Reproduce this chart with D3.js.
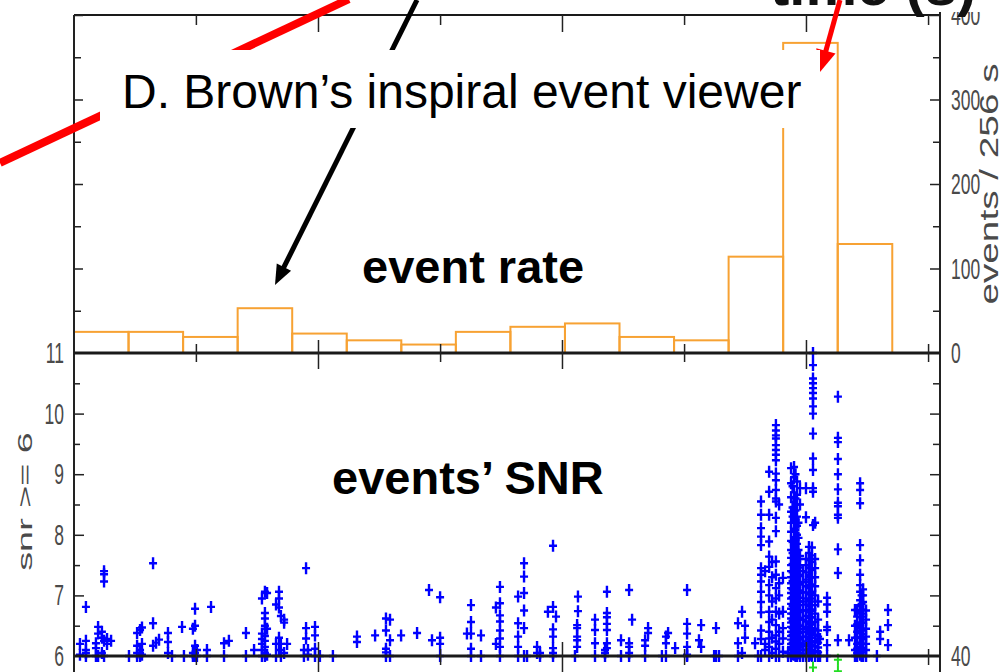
<!DOCTYPE html>
<html>
<head>
<meta charset="utf-8">
<script src="https://cdn.jsdelivr.net/npm/d3@7"></script>
<style>
  body { margin: 0; background: #fff; }
  svg { display: block; }
</style>
</head>
<body>
<div id="chart"></div>
<script>
// ---- data ----
// event rate histogram, events per 256 s bin
var binSize = 256;
var binCounts = [25, 25, 19, 53, 23, 15, 10, 25, 31, 35, 19, 15, 114, 367, 129];
var rateTicks = [0, 100, 200, 300, 400];
var rateMinor = [50, 150, 250, 350];

// snr panel
var snrTicks = [6, 7, 8, 9, 10, 11];
var snrMinor = [6.5, 7.5, 8.5, 9.5, 10.5];
var lowTicks = [40];

// time axis (s)
var timeMax = 4064;
var xMajor = [1145, 2290, 3435];
var xMinor = [572, 1718, 2863, 4008];

// events: time of each column and the snr values found there
var colTime = [28, 56, 103, 113, 131, 141, 155, 174, 258, 296, 310, 319, 371, 385, 399, 441, 460, 507, 516, 558,
    568, 577, 624, 643, 704, 727, 807, 845, 882, 896, 906, 948, 962, 971, 986, 1000, 1079, 1089, 1098, 1131,
    1154, 1215, 1328, 1413, 1464, 1483, 1535, 1610, 1666, 1680, 1718, 1844, 1863, 1910, 1980, 1999, 2084, 2112, 2126, 2173,
    2187, 2224, 2248, 2262, 2351, 2361, 2365, 2445, 2492, 2501, 2567, 2605, 2619, 2680, 2694, 2759, 2778, 2788, 2821, 2877,
    2933, 2943, 3004, 3013, 3027, 3116, 3135, 3149, 3196, 3210, 3224, 3243, 3262, 3276, 3294, 3309, 3327, 3351, 3365, 3372,
    3379, 3386, 3393, 3400, 3407, 3421, 3435, 3449, 3456, 3463, 3468, 3478, 3492, 3501, 3534, 3585, 3637, 3665, 3675, 3689,
    3696, 3703, 3717, 3768, 3783, 3820];
var colSnr = [
    [6.02, 6.2], [6.0, 6.05, 6.1, 6.25, 6.81], [6.0, 6.13, 6.21], [6.0, 6.37, 6.48], [6.05, 6.3, 6.4],
    [6.0, 6.25, 7.23, 7.35, 7.4], [6.2, 6.28], [6.25], [6.0], [6.0, 6.05, 6.17, 6.38],
    [6.0, 6.1, 6.05, 6.43], [6.02, 6.2, 6.47], [6.17, 6.54, 7.53], [6.22], [6.27],
    [6.05, 6.23, 6.38], [6.0], [6.48], [6.0], [6.0, 6.05, 6.45],
    [6.0, 6.05, 6.17, 6.5, 6.78], [6.0, 6.1], [6.0, 6.1], [6.81], [6.0, 6.21],
    [6.25], [6.0, 6.38], [6.1], [6.0, 6.1, 6.2, 6.28, 6.37, 6.95], [6.0, 6.05, 6.15, 6.25, 6.33, 6.5, 6.62, 6.71, 7.06],
    [6.02, 6.45, 7.04], [6.0, 6.2, 6.85], [6.1, 6.3, 6.8, 6.95, 7.06], [6.0, 6.2, 6.66], [6.05, 6.55, 6.6],
    [6.2], [6.0, 6.1], [6.29, 6.46, 7.45], [6.02, 6.1], [6.0, 6.12, 6.34, 6.48],
    [6.0], [6.0], [6.23, 6.32], [6.34], [6.0, 6.06, 6.12, 6.42, 6.62],
    [6.0, 6.26, 6.6], [6.34], [6.38], [7.09], [6.26],
    [6.0, 6.2, 6.3, 6.97], [6.37], [6.0, 6.12, 6.37, 6.56, 6.84], [6.0, 6.34], [6.2, 6.8],
    [6.0, 6.15, 6.29, 6.42, 6.57, 6.67, 6.87, 7.14], [6.0, 6.15, 6.32, 6.54, 6.98], [6.0, 6.46, 6.75, 7.04, 7.31, 7.53], [6.0], [6.05, 6.15],
    [6.0, 6.05], [6.73], [6.0, 6.05, 6.13, 6.32, 6.44, 6.81, 7.82], [6.65], [6.0],
    [6.15, 6.26, 6.32, 6.46, 6.51], [6.74, 6.98], [6.0, 6.21, 6.43, 6.6], [6.0, 6.05, 6.1], [6.13, 6.21, 6.43, 6.53, 6.64, 6.71, 7.06],
    [6.0, 6.26], [6.0, 6.05, 6.15, 6.21, 7.09], [6.6], [6.0, 6.17, 6.26], [6.38, 6.46],
    [6.0], [6.0, 6.21, 6.32], [6.38], [6.13], [6.0, 6.02, 6.15, 6.37, 6.53, 7.09],
    [6.26], [6.15, 6.51], [6.0], [6.0, 6.46], [6.0],
    [6.0, 6.21, 6.54], [6.05, 6.73], [6.3, 6.5], [6.21], [6.0],
    [6.0, 6.28, 6.42, 6.72, 6.89, 7.06, 7.23, 7.34, 7.45, 7.83, 7.97, 8.11, 8.33, 8.55],
    [6.1, 6.2, 7.4],
    [6.0, 6.15, 6.29, 6.4, 6.56, 6.73, 7.0, 7.17, 7.47, 7.64, 7.89, 8.33, 8.71, 9.04],
    [6.05, 6.3, 6.6, 6.9, 7.3, 7.55],
    [6.0, 6.12, 6.24, 6.34, 6.51, 6.73, 6.95, 7.12, 7.34, 7.56, 8.06, 8.28, 8.55, 8.6, 8.74, 8.9, 9.01, 9.23, 9.32, 9.4, 9.48, 9.59, 9.64, 9.72, 9.81],
    [6.0, 6.2, 6.4, 6.7, 7.0, 7.2, 8.5],
    [6.07, 6.29, 6.46, 6.73, 7.29],
    [6.0, 6.05],
    [6.0, 6.04, 6.1, 6.15, 6.2, 6.27, 6.33, 6.4, 6.48, 6.55, 6.62, 6.7, 6.78, 6.86, 6.95, 7.04, 7.12, 7.2, 7.3, 7.4, 7.5, 7.62, 7.75, 7.9, 8.05, 8.2, 8.38, 8.62, 8.85, 9.1],
    [6.03, 6.12, 6.22, 6.35, 6.46, 6.58, 6.7, 6.83, 6.97, 7.1, 7.24, 7.38, 7.52, 7.7, 7.88, 8.3, 8.45, 8.8],
    [6.02, 6.08, 6.13, 6.18, 6.24, 6.3, 6.37, 6.44, 6.51, 6.58, 6.66, 6.74, 6.82, 6.9, 7.0, 7.08, 7.16, 7.25, 7.35, 7.45, 7.56, 7.68, 7.8, 7.95, 8.1, 8.25, 8.4, 8.55, 8.7, 8.95, 9.12],
    [6.0, 6.1, 6.2, 6.31, 6.42, 6.54, 6.66, 6.79, 6.92, 7.05, 7.18, 7.31, 7.44, 7.6, 7.76, 7.92, 8.08, 8.24, 8.4, 8.6, 9.0],
    [6.0, 6.06, 6.12, 6.2, 6.28, 6.35, 6.43, 6.52, 6.6, 6.68, 6.77, 6.85, 6.93, 7.02, 7.1, 7.22, 7.33, 7.42, 7.53, 7.66, 7.85, 8.0, 8.15, 8.3, 8.5, 8.66, 8.88],
    [6.04, 6.16, 6.27, 6.38, 6.5, 6.63, 6.76, 6.9, 7.04, 7.18, 7.32, 7.46, 7.6, 7.75, 7.95, 8.2],
    [6.0, 6.05, 6.14, 6.22, 6.3, 6.4, 6.5, 6.6, 6.72, 6.84, 6.96, 7.08, 7.2, 7.34, 7.5, 7.65, 8.5, 8.77],
    [6.0, 6.1, 6.2, 6.32, 6.45, 6.6, 6.75, 6.9, 7.05, 7.22, 7.4],
    [6.0, 6.04, 6.1, 6.17, 6.24, 6.32, 6.4, 6.48, 6.57, 6.66, 6.75, 6.85, 6.95, 7.05, 7.15, 7.26, 7.38, 7.5, 7.6, 8.29, 8.77],
    [6.0, 6.06, 6.12, 6.2, 6.28, 6.36, 6.45, 6.54, 6.63, 6.72, 6.82, 6.92, 7.02, 7.12, 7.22, 7.34, 7.46, 7.58, 7.7, 7.8],
    [6.02, 6.1, 6.19, 6.3, 6.41, 6.52, 6.64, 6.77, 6.9, 7.03, 7.17, 7.3, 7.45, 7.6],
    [6.0, 6.05, 6.1, 6.16, 6.23, 6.3, 6.38, 6.46, 6.55, 6.64, 6.74, 6.84, 6.95, 7.06, 7.18, 7.3, 7.42, 7.55, 7.66, 7.79],
    [8.16, 8.71, 8.77, 9.07, 9.26, 9.67, 10.0, 10.12, 10.25, 10.34, 10.42, 10.5, 10.58, 10.8, 11.0],
    [6.0, 6.08, 6.16, 6.25, 6.35, 6.45, 6.56, 6.7, 6.84, 7.0, 7.15, 7.3, 7.45, 7.6, 8.2],
    [6.0, 6.06, 6.14, 6.22, 6.32, 6.42, 6.6, 6.9],
    [6.0, 6.28],
    [6.0, 6.18, 6.43, 6.48, 6.73, 6.85, 6.96],
    [6.26, 7.37, 7.76, 8.28, 8.33, 8.47, 8.53, 8.75, 9.0, 9.25, 9.53, 9.6, 10.28],
    [6.26],
    [6.0, 6.1, 6.3, 6.5, 6.76],
    [6.0, 6.05, 6.12, 6.2, 6.3, 6.4, 6.52, 6.65, 6.76],
    [6.02, 6.08, 6.15, 6.22, 6.3, 6.38, 6.46, 6.55, 6.64, 6.73, 6.82, 6.92, 7.06, 7.17, 7.34, 7.58, 7.83, 8.52, 8.74, 8.85],
    [6.0, 6.1, 6.2, 6.3, 6.42, 6.55, 6.7, 6.86, 7.0],
    [6.0, 6.06, 6.13, 6.2, 6.28, 6.36, 6.45, 6.55, 6.65, 6.77, 6.89, 7.0, 7.1],
    [6.0, 6.1, 6.2, 6.32, 6.45, 6.6, 6.75],
    [6.0], [6.28, 6.4], [6.18, 6.51, 6.76]
];

// the few marks of the panel underneath (green)
var lowTime = [3468, 3585, 3585];
var lowVal = [38.5, 39.5, 38.0];

// ---- chart ----
var W = 999, H = 672;
var font = "'Liberation Sans', Arial, sans-serif";

var svg = d3.select("#chart")
    .append("svg")
    .attr("width", W)
    .attr("height", H);

svg.append("rect").attr("width", W).attr("height", H).attr("fill", "#fff");

var x = d3.scaleLinear().domain([0, timeMax]).range([74, 940]);
var yRate = d3.scaleLinear().domain([0, 400]).range([353, 15]);
var ySnr = d3.scaleLinear().domain([6, 11]).range([656, 353]);
var yLow = d3.scaleLinear().domain([0, 40]).range([960, 656]);

// histogram outlines
svg.append("g")
    .selectAll("rect")
    .data(binCounts)
    .enter().append("rect")
    .attr("x", function (d, i) { return x(i * binSize) })
    .attr("width", function () { return x(binSize) - x(0) })
    .attr("y", function (d) { return yRate(d) })
    .attr("height", function (d) { return yRate(0) - yRate(d) })
    .attr("fill", "none")
    .attr("stroke", "#f7a233")
    .attr("stroke-width", 2);

// flatten the event columns
var events = [];
colTime.forEach(function (t, i) {
    colSnr[i].forEach(function (s) { events.push({ t: t, snr: s }) });
});

var cross = "M-4,0H4M0,-6V6";

svg.append("g")
    .selectAll("path")
    .data(events)
    .enter().append("path")
    .attr("transform", function (d) { return "translate(" + x(d.t) + "," + ySnr(d.snr) + ")" })
    .attr("d", cross)
    .attr("stroke", "#0000ff")
    .attr("stroke-width", 2.4);

svg.append("g")
    .selectAll("path")
    .data(lowTime)
    .enter().append("path")
    .attr("transform", function (d, i) { return "translate(" + x(d) + "," + yLow(lowVal[i]) + ")" })
    .attr("d", cross)
    .attr("stroke", "#22dd22")
    .attr("stroke-width", 2);

// frame lines
var x0 = x.range()[0], x1 = x.range()[1];
function hline(y, w) {
    svg.append("line").attr("x1", x0).attr("x2", x1).attr("y1", y).attr("y2", y)
        .attr("stroke", "#1a1a1a").attr("stroke-width", w);
}
function vline(xx, y1, y2) {
    svg.append("line").attr("x1", xx).attr("x2", xx).attr("y1", y1).attr("y2", y2)
        .attr("stroke", "#222").attr("stroke-width", 2);
}
vline(x0, yRate(400), H);
vline(x1, 12, H);
hline(yRate(400), 2);
hline(yRate(0), 3);
hline(ySnr(6), 3);

// x ticks, pointing up and/or down from a horizontal line
function xTicks(yPos, vals, up, down) {
    if (down > 0) {
        svg.append("g").attr("transform", "translate(0," + yPos + ")")
            .call(d3.axisBottom(x).tickValues(vals).tickSize(down).tickFormat(""))
            .call(function (g) { g.select(".domain").remove() })
            .selectAll("line").attr("stroke", "#222").attr("stroke-width", 1.5);
    }
    if (up > 0) {
        svg.append("g").attr("transform", "translate(0," + yPos + ")")
            .call(d3.axisTop(x).tickValues(vals).tickSize(up).tickFormat(""))
            .call(function (g) { g.select(".domain").remove() })
            .selectAll("line").attr("stroke", "#222").attr("stroke-width", 1.5);
    }
}
xTicks(yRate(400), xMajor, 0, 17);
xTicks(yRate(400), xMinor, 0, 10);
xTicks(yRate(0), xMajor, 13, 16);
xTicks(yRate(0), xMinor, 9, 9);
xTicks(ySnr(6), xMajor, 14, 16);
xTicks(ySnr(6), xMinor, 7, 9);

// y ticks: inward from the left (x0) or right (x1) frame
function yTicks(scale, vals, len, side) {
    var ax = side === "left" ? d3.axisRight(scale) : d3.axisLeft(scale);
    svg.append("g").attr("transform", "translate(" + (side === "left" ? x0 : x1) + ",0)")
        .call(ax.tickValues(vals).tickSize(len).tickFormat(""))
        .call(function (g) { g.select(".domain").remove() })
        .selectAll("line").attr("stroke", "#222").attr("stroke-width", 1.5);
}
yTicks(yRate, rateTicks.slice(1), 9, "left");
yTicks(yRate, rateMinor, 7, "left");
yTicks(yRate, rateTicks.slice(1), 10, "right");
yTicks(yRate, rateMinor, 7, "right");
yTicks(ySnr, snrTicks.slice(1, 5), 10, "left");
yTicks(ySnr, snrMinor, 6, "left");
yTicks(ySnr, snrTicks.slice(1, 5), 10, "right");
yTicks(ySnr, snrMinor, 7, "right");

// tick labels (narrow, stretched look of the original)
function yLabels(scale, vals, side) {
    var ax = side === "left" ? d3.axisLeft(scale) : d3.axisRight(scale);
    svg.append("g").attr("transform", "translate(" + (side === "left" ? x0 : x1) + ",0)")
        .call(ax.tickValues(vals).tickSize(0).tickPadding(side === "left" ? 10 : 11).tickFormat(d3.format("d")))
        .call(function (g) { g.select(".domain").remove() })
        .selectAll("text")
        .attr("font-family", font)
        .attr("font-size", 17.5)
        .attr("fill", "#4a4a4a")
        .attr("transform", "scale(1,1.7)");
}
yLabels(ySnr, snrTicks, "left");
yLabels(yRate, rateTicks, "right");
yLabels(yLow, lowTicks, "right");

// axis titles
svg.append("text")
    .attr("transform", "translate(32," + ySnr(8.55) + ") rotate(-90) scale(1.8,1)")
    .attr("text-anchor", "middle")
    .attr("font-family", font).attr("font-size", 21).attr("fill", "#4a4a4a")
    .text("snr >= 6");

svg.append("text")
    .attr("transform", "translate(998," + yRate(200) + ") rotate(-90) scale(1.55,1)")
    .attr("text-anchor", "middle")
    .attr("font-family", font).attr("font-size", 25).attr("fill", "#4a4a4a")
    .text("events / 256 s");

// ---- slide annotations ----
svg.append("rect").attr("x", 755).attr("y", 0).attr("width", 244).attr("height", 12).attr("fill", "#fff");
svg.append("text")
    .attr("x", 770).attr("y", 5)
    .attr("font-family", font).attr("font-size", 58).attr("font-weight", "bold").attr("fill", "#111")
    .text("time (s)");

function arrow(ax, ay, bx, by, color, w, headLen, headW) {
    var dx = bx - ax, dy = by - ay, L = Math.sqrt(dx * dx + dy * dy);
    var ux = dx / L, uy = dy / L;
    var cx = bx - ux * headLen, cy = by - uy * headLen;
    svg.append("line").attr("x1", ax).attr("y1", ay).attr("x2", cx + ux * 2).attr("y2", cy + uy * 2)
        .attr("stroke", color).attr("stroke-width", w);
    if (headLen > 0) {
        svg.append("path")
            .attr("d", "M" + bx + "," + by +
                "L" + (cx - uy * headW) + "," + (cy + ux * headW) +
                "L" + (cx + uy * headW) + "," + (cy - ux * headW) + "Z")
            .attr("fill", color);
    }
}
arrow(0, 163, 347, 0, "#ff0000", 8, 0, 0);
arrow(417, 0, 275, 285, "#000", 5, 20, 8);
arrow(840, 0, 820, 72, "#ff0000", 5, 22, 10);

svg.append("rect").attr("x", 100).attr("y", 50).attr("width", 720).attr("height", 78).attr("fill", "#fff");
svg.append("text")
    .attr("x", 122).attr("y", 108)
    .attr("font-family", font).attr("font-size", 48).attr("fill", "#000")
    .text("D. Brown\u2019s inspiral event viewer");

svg.append("text")
    .attr("x", 362).attr("y", 283)
    .attr("font-family", font).attr("font-size", 47).attr("font-weight", "bold").attr("fill", "#000")
    .text("event rate");

svg.append("text")
    .attr("x", 332).attr("y", 494)
    .attr("font-family", font).attr("font-size", 47).attr("font-weight", "bold").attr("fill", "#000")
    .text("events\u2019 SNR");
</script>
</body>
</html>
